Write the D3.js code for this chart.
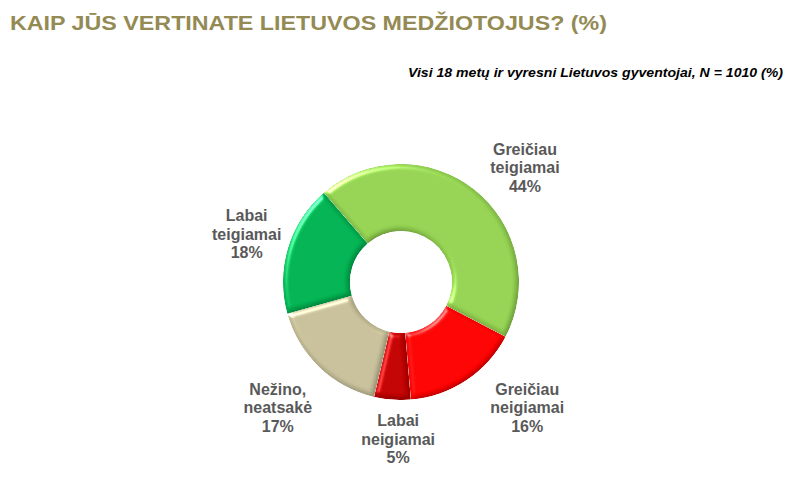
<!DOCTYPE html>
<html>
<head>
<meta charset="utf-8">
<script src="https://cdn.jsdelivr.net/npm/d3@7"></script>
<style>
  html, body { margin: 0; padding: 0; background: #fff; }
  svg { display: block; }
</style>
</head>
<body>
<div id="chart"></div>
<script>
// duomenys
const kategorijos = [
  ["Greičiau", "teigiamai"],
  ["Greičiau", "neigiamai"],
  ["Labai", "neigiamai"],
  ["Nežino,", "neatsakė"],
  ["Labai", "teigiamai"]
];
const reiksmes = [44, 16, 5, 17, 18];
const spalvos = ["#92D050", "#FF0000", "#C00000", "#C4BD97", "#00B050"];

// etikečių vieta (kampas laipsniais, spindulys)
const etikeciuKampai = [48.7, 136.1, 181, 223.2, 285.3];
const etikeciuSpinduliai = [165, 182, 163, 180, 160];

const plotis = 800, aukstis = 497;
const cx = 401, cy = 282;
const rIsor = 118, rVid = 51;
const pradziosKampas = -40.8 * Math.PI / 180;

const svg = d3.select("#chart").append("svg")
  .attr("width", plotis)
  .attr("height", aukstis);

// bevel efektas
const defs = svg.append("defs");
const filtras = defs.append("filter")
  .attr("id", "bevel")
  .attr("color-interpolation-filters", "sRGB")
  .attr("x", "-10%").attr("y", "-10%")
  .attr("width", "120%").attr("height", "120%");
filtras.append("feGaussianBlur")
  .attr("in", "SourceAlpha").attr("stdDeviation", 2.5).attr("result", "blur");
filtras.append("feSpecularLighting")
  .attr("in", "blur").attr("surfaceScale", 3)
  .attr("specularConstant", 0.55).attr("specularExponent", 24)
  .attr("lighting-color", "#ffffff").attr("result", "spec")
  .append("feDistantLight").attr("azimuth", 225).attr("elevation", 32);
filtras.append("feComposite")
  .attr("in", "spec").attr("in2", "SourceAlpha")
  .attr("operator", "in").attr("result", "specOut");
filtras.append("feDiffuseLighting")
  .attr("in", "blur").attr("surfaceScale", 3)
  .attr("diffuseConstant", 1).attr("lighting-color", "#ffffff").attr("result", "diff")
  .append("feDistantLight").attr("azimuth", 225).attr("elevation", 60);
filtras.append("feComposite")
  .attr("in", "SourceGraphic").attr("in2", "diff")
  .attr("operator", "arithmetic")
  .attr("k1", 0.4).attr("k2", 0.65).attr("k3", 0).attr("k4", 0)
  .attr("result", "shaded");
filtras.append("feComposite")
  .attr("in", "shaded").attr("in2", "specOut")
  .attr("operator", "arithmetic")
  .attr("k1", 0).attr("k2", 1).attr("k3", 1).attr("k4", 0)
  .attr("result", "lit");
filtras.append("feComposite")
  .attr("in", "lit").attr("in2", "SourceAlpha").attr("operator", "in");

// antraštė
svg.append("text")
  .attr("x", 10)
  .attr("y", 30)
  .attr("fill", "#948A54")
  .attr("font-family", "Liberation Sans, Arial, sans-serif")
  .attr("font-weight", "bold")
  .attr("font-size", 21)
  .attr("textLength", 597)
  .attr("lengthAdjust", "spacingAndGlyphs")
  .text("KAIP JŪS VERTINATE LIETUVOS MEDŽIOTOJUS? (%)");

svg.append("text")
  .attr("x", 783)
  .attr("y", 77)
  .attr("text-anchor", "end")
  .attr("fill", "#000")
  .attr("font-family", "Liberation Sans, Arial, sans-serif")
  .attr("font-weight", "bold")
  .attr("font-style", "italic")
  .attr("font-size", 13)
  .attr("textLength", 375)
  .attr("lengthAdjust", "spacingAndGlyphs")
  .text("Visi 18 metų ir vyresni Lietuvos gyventojai, N = 1010 (%)");

const pie = d3.pie()
  .sort(null)
  .startAngle(pradziosKampas)
  .endAngle(pradziosKampas + 2 * Math.PI)
  .value(d => d);

const arc = d3.arc().innerRadius(rVid).outerRadius(rIsor);

const g = svg.append("g").attr("transform", `translate(${cx},${cy})`);

g.selectAll("path.slice")
  .data(pie(reiksmes))
  .join("path")
  .attr("class", "slice")
  .attr("d", arc)
  .attr("fill", (d, i) => spalvos[i])
  .attr("filter", "url(#bevel)");

// etiketės
const eilAukstis = 18.5;
const etiketes = g.selectAll("text.lbl")
  .data(kategorijos)
  .join("text")
  .attr("class", "lbl")
  .attr("text-anchor", "middle")
  .attr("fill", "#595959")
  .attr("font-family", "Liberation Sans, Arial, sans-serif")
  .attr("font-weight", "bold")
  .attr("font-size", 16)
  .attr("transform", (d, i) => {
    const a = etikeciuKampai[i] * Math.PI / 180;
    const r = etikeciuSpinduliai[i];
    return `translate(${r * Math.sin(a)},${-r * Math.cos(a)})`;
  });

etiketes.each(function (d, i) {
  const t = d3.select(this);
  const eilutes = [...d, reiksmes[i] + "%"];
  eilutes.forEach((s, j) => {
    t.append("tspan")
      .attr("x", 0)
      .attr("y", (j - 1) * eilAukstis)
      .text(s);
  });
});
</script>
</body>
</html>
